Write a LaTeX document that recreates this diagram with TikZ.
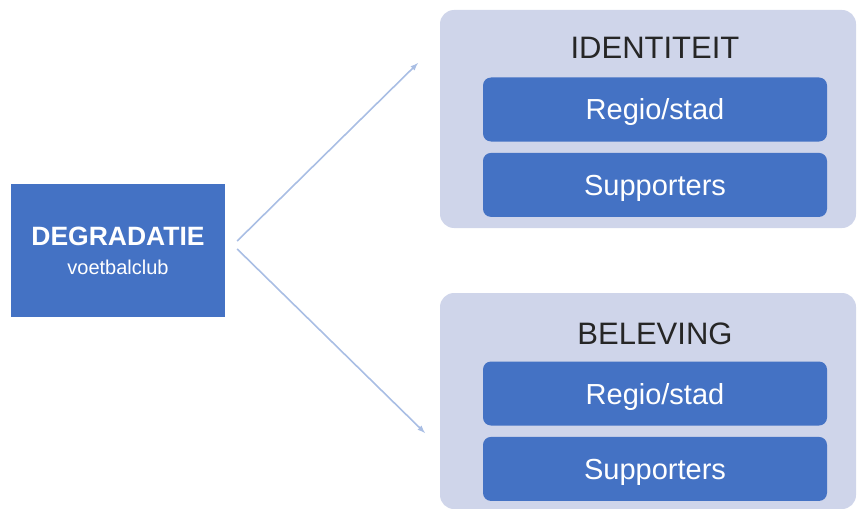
\documentclass[tikz,border=0pt]{standalone}
\usepackage{fontspec}
\setmainfont{Liberation Sans}
\usetikzlibrary{positioning}
\definecolor{blauw}{HTML}{4472C4}
\definecolor{lila}{HTML}{CFD5EA}
\definecolor{pijlkleur}{HTML}{A9BEE4}
\begin{document}
\begin{tikzpicture}[
                            x=1pt, y=-1pt,
                            >=latex,
                            groep/.style={fill=lila, rounded corners=14pt, minimum width=416pt},
                            vak/.style={fill=blauw, rounded corners=8pt, minimum width=344pt, minimum height=64pt, text height=21pt, text depth=0pt, text=white, font=\fontsize{29}{30}\selectfont},
                            kop/.style={anchor=base, text=black!85, font=\fontsize{31}{32}\selectfont}
                            ]

                            \useasboundingbox (0,0) rectangle (858,508);

                            \node [fill=blauw, minimum width=214pt, minimum height=133pt, align=center, text=white, font=\fontsize{26.5}{29}\selectfont] (degr) at (118,250.5) {\textbf{DEGRADATIE}\\{\fontsize{20}{22}\selectfont voetbalclub}};

                            % bovenste groep
                            \node [groep, minimum height=218pt] (identiteit) at (648,119) {};
                            \node [kop] (kop1) at (655,59) {IDENTITEIT};
                            \node [vak] (regio1) at (655,109.5) {Regio/stad};
                            \node [vak, below=11pt of regio1] (supp1) {Supporters};

                            % onderste groep
                            \node [groep, minimum height=216pt] (beleving) at (648,401) {};
                            \node [kop] (kop2) at (655,344) {BELEVING};
                            \node [vak] (regio2) at (655,393.5) {Regio/stad};
                            \node [vak, below=11pt of regio2] (supp2) {Supporters};

                            \coordinate (eind1) at (418,63);
                            \coordinate (eind2) at (425,433);

                            \draw[->, pijlkleur, line width=1.6pt] ([shift={(12,-9.5)}]degr.east) -- (eind1);
                            \draw[->, pijlkleur, line width=1.6pt] ([shift={(12,-1.5)}]degr.east) -- (eind2);
                        \end{tikzpicture}
\end{document}
